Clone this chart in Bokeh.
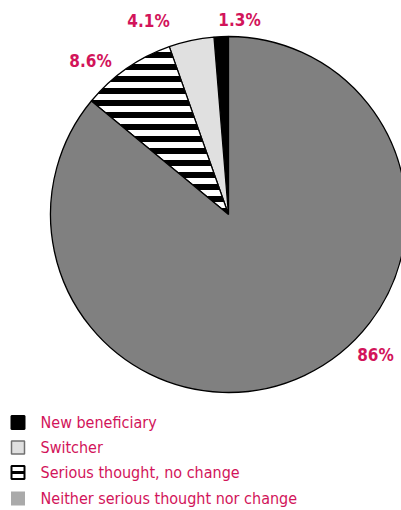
import numpy as np
from bokeh.plotting import figure
from bokeh.models import Range1d
from bokeh.core.properties import value
from bokeh.embed import file_html
from bokeh.resources import INLINE

categories = ["New beneficiary", "Switcher", "Serious thought, no change", "Neither serious thought nor change"]
shares = [1.3, 4.1, 8.6, 86.0]
labels = ["1.3%", "4.1%", "8.6%", "86%"]

# styling (not data)
fills = ["#000000", "#e0e0e0", "#ffffff", "#808080"]
hatches = [None, None, "horizontal_line", None]
legend_fills = ["#000000", "#e0e0e0", "#ffffff", "#aaaaaa"]
legend_lines = ["#000000", "#707070", "#000000", None]
label_pos = [(239, 491), (148, 490), (90, 450), (375, 156)]
RED = "#d2145a"
FONT = "DejaVu Sans Condensed"
W, H = 401, 510
cx, cy, R = 228, 296, 178

p = figure(width=W, height=H, output_backend="svg", toolbar_location=None,
           x_range=Range1d(0, W), y_range=Range1d(0, H), min_border=0)
p.axis.visible = False
p.grid.visible = False
p.outline_line_color = None
p.background_fill_color = "white"

fr = np.array(shares) / sum(shares)
ends = np.pi / 2 + 2 * np.pi * np.cumsum(fr)
starts = ends - 2 * np.pi * fr
for i in range(len(shares)):
    kw = {}
    if hatches[i]:
        kw = dict(hatch_pattern=hatches[i], hatch_color="black", hatch_scale=12, hatch_weight=6)
    p.wedge(x=cx, y=cy, radius=R, start_angle=starts[i], end_angle=ends[i],
            direction="anticlock", fill_color=fills[i], line_color="black", line_width=1.3, **kw)

for (lx, ly), t in zip(label_pos, labels):
    p.text(x=lx, y=ly, text=[t], text_font=value(FONT), text_font_style="bold",
           text_font_size="17px", text_color=RED, text_align="center", text_baseline="middle")

ys = [88, 63, 38, 12]
for i, c in enumerate(categories):
    y = ys[i]
    if legend_lines[i]:
        p.rect(x=17.5, y=y, width=13, height=13, fill_color=legend_fills[i],
               line_color=legend_lines[i], line_width=1.5 if i == 1 else 2)
    else:
        p.rect(x=17.5, y=y, width=14, height=14, fill_color=legend_fills[i], line_color=None)
    if i == 2:
        p.rect(x=17.5, y=y, width=13, height=3, fill_color="black", line_color=None)
    p.text(x=40, y=y, text=[c], text_font=value(FONT),
           text_font_size="16px", text_color=RED, text_align="left", text_baseline="middle")

open("out.html", "w").write(file_html(p, INLINE))
